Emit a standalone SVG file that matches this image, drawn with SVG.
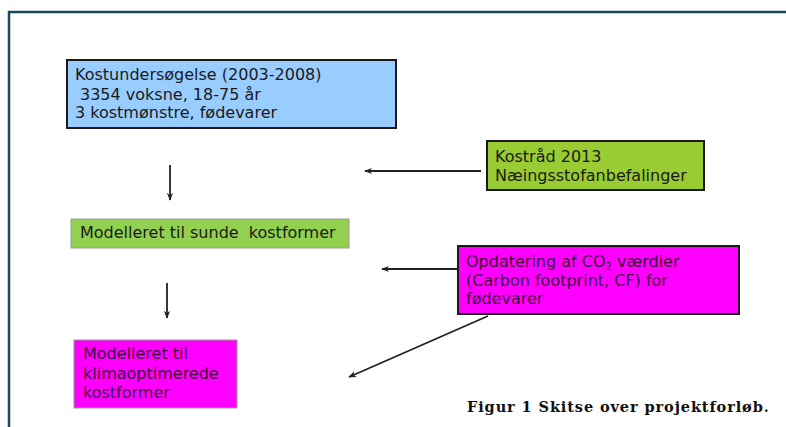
<svg xmlns="http://www.w3.org/2000/svg" width="786" height="427" viewBox="0 0 786 427">
<defs>
<marker id="ah" viewBox="0 0 10 10" refX="9" refY="5" markerWidth="8" markerHeight="8" orient="auto" markerUnits="userSpaceOnUse">
<path d="M0,1 L10,5 L0,9 L3,5 Z" fill="#222"/>
</marker>
<style>
.t{font-family:"DejaVu Sans",Verdana,sans-serif;font-size:16px;fill:#1a1a1a}
.tm{font-family:"DejaVu Sans",Verdana,sans-serif;font-size:16px;fill:#3a0f3a}
.dark{stroke:#1a1a1a;stroke-width:2}
.light{stroke:#9a9a9a;stroke-width:1}
.c{stroke:#222;stroke-width:1.8;fill:none}
</style>
</defs>
<rect width="786" height="427" fill="#fff"/>
<path d="M9,427 V12 H786" fill="none" stroke="#1d4759" stroke-width="2.5"/>
<g id="kostundersogelse">
<rect x="67" y="60" width="329" height="68" fill="#99ccff" class="dark"/>
<text class="t" x="75" y="80">Kostundersøgelse (2003-2008)</text>
<text class="t" x="80" y="100">3354 voksne, 18-75 år</text>
<text class="t" x="75" y="118">3 kostmønstre, fødevarer</text>
</g>
<g id="kostraad">
<rect x="487" y="141" width="217" height="49" fill="#99cc33" class="dark"/>
<text class="t" x="495" y="162">Kostråd 2013</text>
<text class="t" x="495" y="181">Næingsstofanbefalinger</text>
</g>
<g id="sunde">
<rect x="71" y="219" width="278" height="29" fill="#92d050" class="light"/>
<text class="t" x="80" y="238" xml:space="preserve">Modelleret til sunde  kostformer</text>
</g>
<g id="opdatering">
<rect x="458" y="246" width="281" height="68" fill="#ff00ff" class="dark"/>
<text class="tm" x="466" y="267">Opdatering af CO<tspan font-size="10" dy="3">2</tspan><tspan dy="-3"> værdier</tspan></text>
<text class="tm" x="466" y="286">(Carbon footprint, CF) for</text>
<text class="tm" x="466" y="304">fødevarer</text>
</g>
<g id="klima">
<rect x="74" y="340" width="163" height="68" fill="#ff00ff" class="light"/>
<text class="tm" x="83" y="359">Modelleret til</text>
<text class="tm" x="83" y="379">klimaoptimerede</text>
<text class="tm" x="83" y="398">kostformer</text>
</g>
<g id="connectors">
<line class="c" x1="170" y1="165" x2="170" y2="200" marker-end="url(#ah)"/>
<line class="c" x1="481" y1="171" x2="365" y2="171" marker-end="url(#ah)"/>
<line class="c" x1="167" y1="283" x2="167" y2="318" marker-end="url(#ah)"/>
<line class="c" x1="458" y1="269" x2="382" y2="269" marker-end="url(#ah)"/>
<line class="c" x1="488" y1="316" x2="349" y2="377" marker-end="url(#ah)"/>
</g>
<text x="467" y="412" font-family="'DejaVu Serif','Liberation Serif',serif" font-weight="bold" font-size="14.5" letter-spacing="0.9" fill="#111">Figur 1 Skitse over projektforløb.</text>
</svg>
